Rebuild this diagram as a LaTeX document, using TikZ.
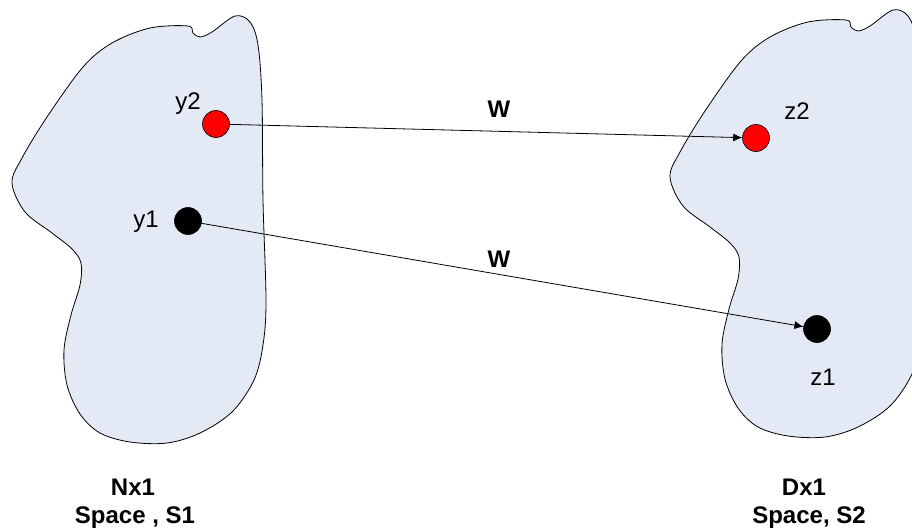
\documentclass[tikz,border=0pt]{standalone}
\usepackage{fontspec}
\setmainfont{Liberation Sans}
\usetikzlibrary{arrows.meta}
\definecolor{blobfill}{RGB}{227,234,246}
\definecolor{dotred}{RGB}{255,0,0}
\tikzset{
  region/.style={draw=black, line width=0.8pt, fill=blobfill},
  dot/.style={circle, draw=black, line width=0.6pt, minimum size=27pt, inner sep=0pt},
  lbl/.style={anchor=base, inner sep=0pt, font=\fontsize{24}{28}\selectfont},
  boldlbl/.style={anchor=base, inner sep=0pt, font=\fontsize{24}{28}\selectfont\bfseries},
  map/.style={draw=black, line width=0.8pt, -{Latex[length=9pt,width=8pt]}},
  blob/.pic={
    \path[region] plot[smooth cycle, tension=0.55] coordinates {
      (12,183) (22,158) (47,117) (83,67) (112,43) (150,28) (188,26)
      (193,33) (200,37) (212,32) (235,16) (250,22) (258,45) (262,100)
      (263,200) (266,300) (263,345) (254,380) (232,412) (200,433)
      (167,443) (130,442) (100,433) (80,414) (67,385) (64,350) (71,315)
      (80,285) (81,263) (72,249) (52,233) (25,212)};
  }
}
\begin{document}
\begin{tikzpicture}[x=1pt, y=-1pt]
  \useasboundingbox (0,0) rectangle (912,527);
  \begin{scope}
    \clip (0,0) rectangle (912,527);
    \pic at (0,0) {blob};
    \pic at (658,-6) {blob};
  \end{scope}

  % points of the two spaces
  \node[dot, fill=dotred] (y2) at (216,124) {};
  \node[dot, fill=black]  (y1) at (188,221) {};
  \node[dot, fill=dotred] (z2) at (756,138) {};
  \node[dot, fill=black]  (z1) at (817,329) {};

  % mappings
  \draw[map] (y2) -- (z2);
  \draw[map] (y1) -- (z1);

  % point labels
  \node[lbl] (ly2) at (188,109) {y2};
  \node[lbl] (ly1) at (146,227) {y1};
  \node[lbl] (lz2) at (797,119) {z2};
  \node[lbl] (lz1) at (823,385) {z1};

  % mapping labels
  \node[boldlbl] (w2) at (499,117) {W};
  \node[boldlbl] (w1) at (499,267) {W};

  % space captions
  \node[boldlbl] (n1) at (133,495) {Nx1};
  \node[boldlbl] (n2) at (135,523) {Space , S1};
  \node[boldlbl] (d1) at (804,495) {Dx1};
  \node[boldlbl] (d2) at (809,523) {Space, S2};
\end{tikzpicture}
\end{document}
